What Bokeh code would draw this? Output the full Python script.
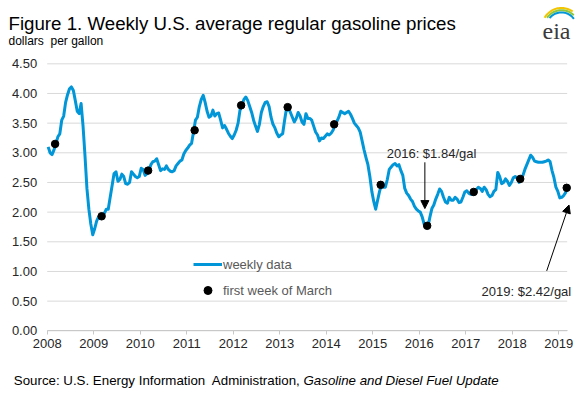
import numpy as np
from bokeh.plotting import figure
from bokeh.models import (Range1d, FixedTicker, NumeralTickFormatter, Label, Arrow,
                          NormalHead, Legend, LegendItem, PolyAnnotation)
from bokeh.embed import file_html
from bokeh.resources import INLINE

# ---------------- data ----------------
# semi-monthly readings of the weekly U.S. regular gasoline price, $/gal
p2008 = [3.10, 3.00, 2.97, 3.05, 3.15, 3.27, 3.32, 3.55, 3.62, 3.85, 3.98, 4.08,
         4.11, 4.05, 3.88, 3.70, 3.66, 3.83, 3.45, 2.95, 2.40, 2.05, 1.80, 1.62]
p2009 = [1.72, 1.85, 1.92, 1.90, 1.93, 1.98, 2.05, 2.05, 2.25, 2.45, 2.65, 2.68,
         2.52, 2.55, 2.64, 2.60, 2.48, 2.47, 2.50, 2.68, 2.64, 2.60, 2.58, 2.60]
p2010 = [2.74, 2.72, 2.62, 2.65, 2.70, 2.80, 2.85, 2.86, 2.90, 2.80, 2.70, 2.73,
         2.72, 2.78, 2.72, 2.69, 2.68, 2.70, 2.78, 2.82, 2.86, 2.88, 2.98, 3.04]
p2011 = [3.08, 3.13, 3.16, 3.35, 3.55, 3.60, 3.78, 3.90, 3.97, 3.85, 3.70, 3.60,
         3.62, 3.72, 3.62, 3.66, 3.67, 3.55, 3.42, 3.46, 3.40, 3.33, 3.28, 3.24]
p2012 = [3.30, 3.38, 3.50, 3.72, 3.80, 3.90, 3.94, 3.88, 3.78, 3.68, 3.55, 3.45,
         3.36, 3.48, 3.68, 3.78, 3.85, 3.86, 3.78, 3.60, 3.48, 3.42, 3.33, 3.27]
p2013 = [3.30, 3.32, 3.55, 3.75, 3.75, 3.68, 3.60, 3.52, 3.58, 3.68, 3.62, 3.52,
         3.48, 3.66, 3.58, 3.58, 3.55, 3.45, 3.35, 3.30, 3.20, 3.25, 3.24, 3.28]
p2014 = [3.32, 3.30, 3.33, 3.38, 3.47, 3.53, 3.60, 3.70, 3.68, 3.66, 3.68, 3.70,
         3.65, 3.58, 3.50, 3.46, 3.42, 3.35, 3.20, 3.05, 2.92, 2.80, 2.60, 2.35]
p2015 = [2.18, 2.05, 2.20, 2.35, 2.46, 2.42, 2.42, 2.55, 2.72, 2.76, 2.80, 2.82,
         2.78, 2.80, 2.70, 2.62, 2.40, 2.32, 2.28, 2.22, 2.18, 2.10, 2.05, 2.02]
p2016 = [2.00, 1.92, 1.80, 1.74, 1.76, 1.92, 2.06, 2.12, 2.22, 2.30, 2.39, 2.35,
         2.25, 2.17, 2.15, 2.25, 2.20, 2.20, 2.25, 2.22, 2.16, 2.17, 2.25, 2.34]
p2017 = [2.36, 2.32, 2.30, 2.30, 2.33, 2.38, 2.42, 2.40, 2.35, 2.42, 2.38, 2.30,
         2.26, 2.28, 2.35, 2.38, 2.67, 2.60, 2.48, 2.50, 2.56, 2.52, 2.45, 2.50]
p2018 = [2.58, 2.60, 2.58, 2.50, 2.55, 2.62, 2.72, 2.80, 2.88, 2.96, 2.92, 2.86,
         2.85, 2.84, 2.84, 2.84, 2.85, 2.86, 2.88, 2.85, 2.70, 2.58, 2.42, 2.35]
p2019 = [2.24, 2.25, 2.28, 2.33, 2.42]

weekly_values = (p2008 + p2009 + p2010 + p2011 + p2012 + p2013 + p2014 +
                 p2015 + p2016 + p2017 + p2018 + p2019)
weekly_dates = [2008 + (i + 0.5) / 24 for i in range(len(weekly_values))]

march_years = [2008, 2009, 2010, 2011, 2012, 2013, 2014, 2015, 2016, 2017, 2018, 2019]
march_values = [3.15, 1.93, 2.70, 3.38, 3.80, 3.77, 3.48, 2.46, 1.77, 2.34, 2.56, 2.41]
march_dates = [y + 0.17 for y in march_years]

x_ticks = march_years
x_tick_labels = [str(y) for y in march_years]
y_ticks = [0.0, 0.5, 1.0, 1.5, 2.0, 2.5, 3.0, 3.5, 4.0, 4.5]

title_text = "Figure 1. Weekly U.S. average regular gasoline prices"
subtitle_text = "dollars\u00a0 per gallon"
source_text = "Source: U.S. Energy Information\u00a0 Administration,"
source_italic = "Gasoline and Diesel Fuel Update"
note_2016 = "2016: $1.84/gal"
note_2019 = "2019: $2.42/gal"

# ---------------- layout constants ----------------
W, H = 582, 394
X0 = 2008.0          # left end of the plotting area
X1 = 2019.18         # right end of gridlines / axis line
PX_YEAR = 46.51      # pixels per year
PX_UNIT = 59.33      # pixels per dollar
LEFT_PX = 46.7       # canvas px left of x=2008
BOTTOM_PX = 63.7     # canvas px below y=0

x_lo = X0 - LEFT_PX / PX_YEAR
x_hi = x_lo + W / PX_YEAR
y_lo = -BOTTOM_PX / PX_UNIT
y_hi = y_lo + H / PX_UNIT

FONT = "Liberation Sans"
BLUE = "#0096D7"
TXT = "#262626"

p = figure(width=W, height=H, x_range=Range1d(x_lo, x_hi),
           y_range=Range1d(y_lo, y_hi), output_backend="svg", toolbar_location=None,
           min_border=0, min_border_left=0, min_border_right=0, min_border_top=0,
           min_border_bottom=0)
p.outline_line_color = None
p.background_fill_color = "white"
p.border_fill_color = "white"
p.xgrid.grid_line_color = None
p.ygrid.grid_line_color = None

# horizontal gridlines limited to the plotting area
p.segment(x0=[X0] * len(y_ticks), y0=y_ticks, x1=[X1] * len(y_ticks), y1=y_ticks,
          line_color="#d9d9d9", line_width=1)

xa = p.xaxis[0]
xa.fixed_location = 0
xa.bounds = (X0, X1)
xa.ticker = FixedTicker(ticks=x_ticks)
xa.major_label_overrides = {t: l for t, l in zip(x_ticks, x_tick_labels)}
xa.axis_line_color = "#c8c8c8"
xa.major_tick_line_color = "#c8c8c8"
xa.major_tick_out = 4
xa.major_tick_in = 0
xa.minor_tick_line_color = None
xa.major_label_standoff = 4
xa.major_label_text_font = FONT
xa.major_label_text_font_size = "13px"
xa.major_label_text_color = TXT

ya = p.yaxis[0]
ya.fixed_location = X0
ya.ticker = FixedTicker(ticks=y_ticks)
ya.formatter = NumeralTickFormatter(format="0.00")
ya.axis_line_color = None
ya.major_tick_line_color = None
ya.minor_tick_line_color = None
ya.major_tick_out = 0
ya.major_tick_in = 0
ya.major_label_standoff = 10
ya.major_label_text_font = FONT
ya.major_label_text_font_size = "13px"
ya.major_label_text_color = TXT

line_r = p.line(weekly_dates, weekly_values, line_color=BLUE, line_width=3,
                line_join="round")
dot_r = p.scatter(march_dates, march_values, size=7.5, color="black")

legend = Legend(items=[LegendItem(label="weekly data", renderers=[line_r]),
                       LegendItem(label="first week of March", renderers=[dot_r])],
                location=(193, 94), orientation="vertical", glyph_width=29,
                glyph_height=20, label_height=20, spacing=6, padding=0, margin=0,
                border_line_color=None, background_fill_alpha=0,
                label_text_font=FONT, label_text_font_size="13px",
                label_text_color="#595959", label_standoff=1)
p.add_layout(legend)

# annotations
p.add_layout(Arrow(end=NormalHead(size=8, fill_color="black", line_color="black"),
                   x_start=2016.12, y_start=2.84, x_end=2016.12, y_end=2.06,
                   line_color="black", line_width=1))
p.add_layout(Label(x=2015.30, y=2.98, text=note_2016, text_font=FONT,
                   text_font_size="13px", text_color=TXT, text_baseline="alphabetic"))
p.add_layout(Arrow(end=NormalHead(size=8, fill_color="black", line_color="black"),
                   x_start=2018.74, y_start=1.01, x_end=2019.22, y_end=2.12,
                   line_color="black", line_width=1))
p.add_layout(Label(x=2017.34, y=0.67, text=note_2019, text_font=FONT,
                   text_font_size="13px", text_color=TXT, text_baseline="alphabetic"))

def slabel(text, x, y, size, color=TXT, font=FONT, style="normal"):
    p.add_layout(Label(x=x, y=y, x_units="screen", y_units="screen", text=text,
                       text_font=font, text_font_size=size, text_color=color,
                       text_font_style=style, text_baseline="alphabetic"))

# screen units: x from canvas left, y from canvas bottom
slabel(title_text, 8, H - 22.7, "18.7px", color="#000000")
slabel(subtitle_text, 8, H - 40, "12px", color="#000000")
slabel(source_text, 13.3, H - 380, "13.3px", color="#000000")
slabel(source_italic, 303, H - 380, "13.3px", color="#000000", style="italic")

# eia logo
slabel("eia", 542, H - 30.7, "24px", color="#3a3a3a", font="Liberation Serif")
cx, cy = 561, H - 27
for r, a0, a1, col in [(19.5, 55, 150, "#F2C500"), (17.3, 45, 146, "#8DC63F"),
                       (15.1, 35, 142, BLUE)]:
    ang = np.radians(np.linspace(a0, a1, 30))
    xo = cx + (r + 1) * np.cos(ang)
    yo = cy + (r + 1) * np.sin(ang)
    xi = cx + (r - 1) * np.cos(ang[::-1])
    yi = cy + (r - 1) * np.sin(ang[::-1])
    p.add_layout(PolyAnnotation(xs=list(np.concatenate([xo, xi])),
                                ys=list(np.concatenate([yo, yi])),
                                xs_units="screen", ys_units="screen",
                                fill_color=col, fill_alpha=1, line_color=None))

open("out.html", "w").write(file_html(p, INLINE))
